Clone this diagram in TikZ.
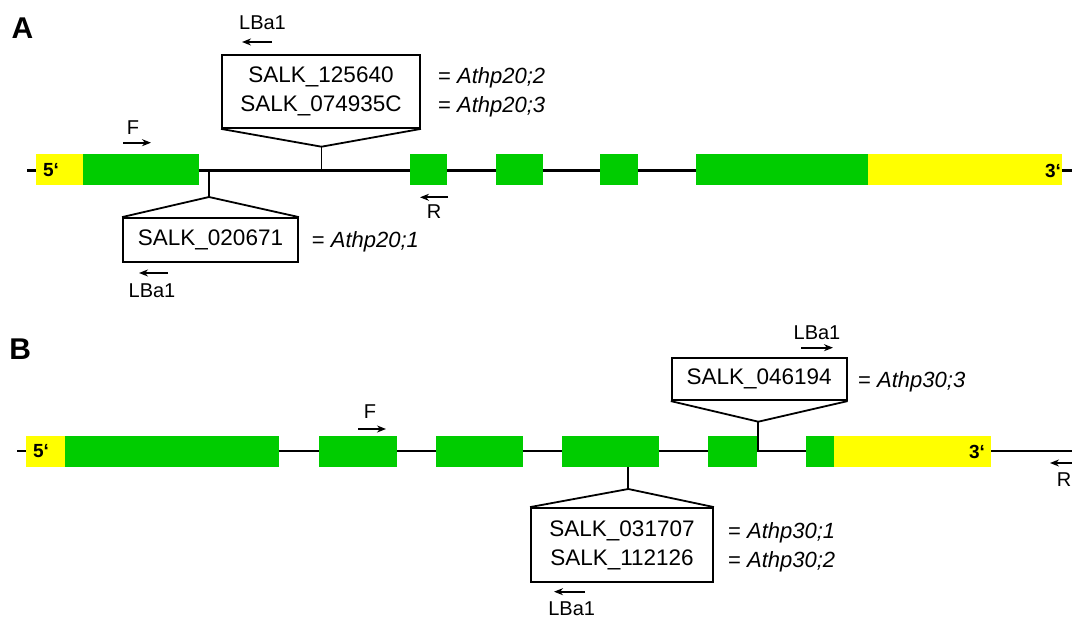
\documentclass[tikz,border=0pt]{standalone}
\usepackage{fontspec}
\setmainfont{Liberation Sans}
\usetikzlibrary{arrows.meta}
\definecolor{exgreen}{RGB}{0,204,0}
\definecolor{utryellow}{RGB}{255,255,0}
\begin{document}
\begin{tikzpicture}[x=1pt,y=-1pt,
  exon/.style={fill=exgreen,draw=none,inner sep=0pt,minimum height=31pt},
  utr/.style={fill=utryellow,draw=none,inner sep=0pt,minimum height=31pt},
  geneline/.style={line width=2.6pt},
  ins/.style={line width=1.8pt},
  salkbox/.style={draw,line width=1.8pt,inner sep=0pt,align=center,font=\fontsize{22.5}{29}\selectfont},
  allele/.style={anchor=west,inner sep=0pt,align=left,font=\fontsize{22}{29}\selectfont},
  primer/.style={inner sep=0pt,font=\fontsize{20}{24}\selectfont},
  parr/.style={-{Stealth[length=9pt,width=7pt]},line width=1.8pt},
  utrlabel/.style={inner sep=0pt,font=\fontsize{19}{20}\selectfont\bfseries},
  panel/.style={inner sep=0pt,font=\fontsize{30}{36}\selectfont\bfseries}
]
\useasboundingbox (0,0) rectangle (1072,620);
\newcommand\exonA[4]{\node[#4,minimum width={#3-#2}] (#1) at ({(#2+#3)/2},169.5) {};}
\newcommand\exonB[4]{\node[#4,minimum width={#3-#2}] (#1) at ({(#2+#3)/2},451.5) {};}

% ---------------- Panel A ----------------
\node[panel] (labA) at (22.5,28) {A};
\coordinate (lA0) at (27,170.5);
\coordinate (lA1) at (1072,170.5);
\draw[geneline] (lA0) -- (lA1);
% insertion stems
\coordinate (gA1) at (209,170.5);
\coordinate (apA1) at (209,197);
\coordinate (gA2) at (321.5,170.5);
\coordinate (apA2) at (321.5,146.7);
\draw[ins] (gA1) -- (apA1);
\draw[ins] (gA2) -- (apA2);
% exons
\exonA{uA5}{36}{83.5}{utr}
\exonA{eA1}{83}{199}{exon}
\exonA{eA2}{410}{447}{exon}
\exonA{eA3}{496}{543}{exon}
\exonA{eA4}{600}{638}{exon}
\exonA{eA5}{696}{868.5}{exon}
\exonA{uA3}{868}{1062}{utr}
\node[utrlabel] (t5A) at (51,170.5) {5‘};
\node[utrlabel] (t3A) at (1053,170.5) {3‘};
% boxes
\node[salkbox,minimum width=198pt,minimum height=73pt] (boxA2) at (321,91.5) {SALK\_125640\\SALK\_074935C};
\draw[ins] (boxA2.south west) -- (apA2) -- (boxA2.south east);
\node[allele] (alA2) at (438,92.2) {= \textit{Athp20;2}\\= \textit{Athp20;3}};
\node[salkbox,minimum width=175pt,minimum height=44pt] (boxA1) at (210.5,240) {SALK\_020671};
\draw[ins] (boxA1.north west) -- (apA1) -- (boxA1.north east);
\node[allele] (alA1) at (311.7,242) {= \textit{Athp20;1}};
% primers
\node[primer] (pLA2) at (262.5,23) {LBa1};
\coordinate (aLA2s) at (272,42); \coordinate (aLA2e) at (242,42);
\draw[parr] (aLA2s) -- (aLA2e);
\node[primer] (pFA) at (133,127.5) {F};
\coordinate (aFAs) at (123,142.7); \coordinate (aFAe) at (151,142.7);
\draw[parr] (aFAs) -- (aFAe);
\node[primer] (pRA) at (434,211.7) {R};
\coordinate (aRAs) at (448,197.3); \coordinate (aRAe) at (420,197.3);
\draw[parr] (aRAs) -- (aRAe);
\node[primer] (pLA1) at (152,291) {LBa1};
\coordinate (aLA1s) at (168,273); \coordinate (aLA1e) at (139,273);
\draw[parr] (aLA1s) -- (aLA1e);

% ---------------- Panel B ----------------
\node[panel] (labB) at (20.3,349) {B};
\coordinate (lB0) at (17,451);
\coordinate (lB1) at (1072,451);
\draw[geneline] (lB0) -- (lB1);
\coordinate (gB1) at (628.3,451);
\coordinate (apB1) at (628.3,489);
\coordinate (gB3) at (758.3,451);
\coordinate (apB3) at (758.3,421.7);
\draw[ins] (gB1) -- (apB1);
\draw[ins] (gB3) -- (apB3);
\exonB{uB5}{26}{65.5}{utr}
\exonB{eB1}{65}{279}{exon}
\exonB{eB2}{319}{397}{exon}
\exonB{eB3}{436}{523}{exon}
\exonB{eB4}{562}{659}{exon}
\exonB{eB5}{708}{757}{exon}
\exonB{eB6}{806}{834.5}{exon}
\exonB{uB3}{834}{991}{utr}
\node[utrlabel] (t5B) at (41,451.5) {5‘};
\node[utrlabel] (t3B) at (977,451.5) {3‘};
% boxes
\node[salkbox,minimum width=175pt,minimum height=42pt] (boxB3) at (759.2,379.2) {SALK\_046194};
\draw[ins] (boxB3.south west) -- (apB3) -- (boxB3.south east);
\node[allele] (alB3) at (858,381.7) {= \textit{Athp30;3}};
\node[salkbox,minimum width=182pt,minimum height=74pt] (boxB1) at (622,545) {SALK\_031707\\SALK\_112126};
\draw[ins] (boxB1.north west) -- (apB1) -- (boxB1.north east);
\node[allele] (alB1) at (728,547.5) {= \textit{Athp30;1}\\= \textit{Athp30;2}};
% primers
\node[primer] (pFB) at (370,412) {F};
\coordinate (aFBs) at (358,429); \coordinate (aFBe) at (386,429);
\draw[parr] (aFBs) -- (aFBe);
\node[primer] (pLB3) at (817,332.7) {LBa1};
\coordinate (aLB3s) at (801,347.7); \coordinate (aLB3e) at (833,347.7);
\draw[parr] (aLB3s) -- (aLB3e);
\node[primer] (pLB1) at (571.7,609) {LBa1};
\coordinate (aLB1s) at (585,591.7); \coordinate (aLB1e) at (554,591.7);
\draw[parr] (aLB1s) -- (aLB1e);
\node[primer] (pRB) at (1064,480) {R};
\coordinate (aRBs) at (1080,463); \coordinate (aRBe) at (1050,463);
\draw[parr] (aRBs) -- (aRBe);
\end{tikzpicture}
\end{document}
